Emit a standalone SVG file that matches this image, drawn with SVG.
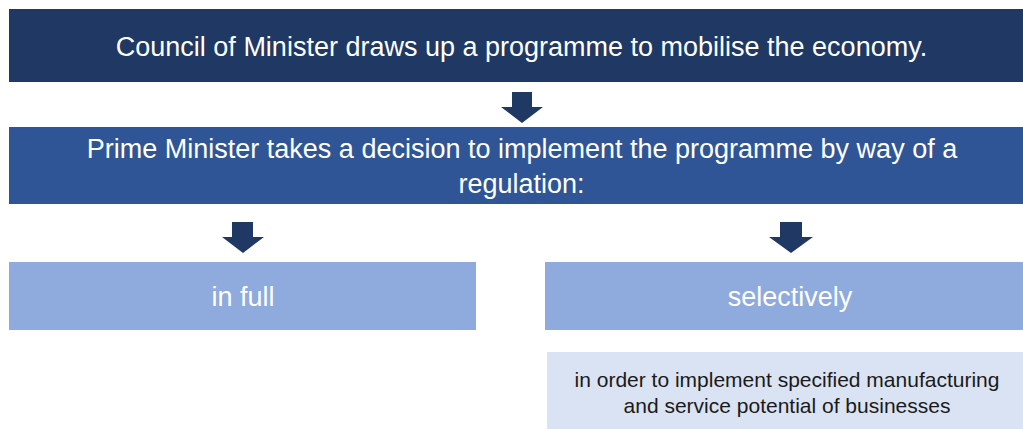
<svg xmlns="http://www.w3.org/2000/svg" width="1023" height="429" viewBox="0 0 1023 429">
<style>
  .t { font-family: "Liberation Sans", Arial, sans-serif; text-anchor: middle; }
  .w { fill: #ffffff; font-size: 27px; }
  .d { fill: #1a1a1a; font-size: 21px; }
  .arrow { fill: #203864; }
</style>
<rect width="1023" height="429" fill="#ffffff"/>
<g id="node-council">
  <rect x="9" y="9" width="1014" height="73" fill="#203864"/>
  <text class="t w" x="521.5" y="56">Council of Minister draws up a programme to mobilise the economy.</text>
</g>
<g id="node-pm">
  <rect x="9" y="127" width="1014" height="77" fill="#2F5597"/>
  <text class="t w" x="522" y="158">Prime Minister takes a decision to implement the programme by way of a</text>
  <text class="t w" x="521.5" y="193">regulation:</text>
</g>
<g id="node-full">
  <rect x="9" y="262" width="467" height="68" fill="#8FAADC"/>
  <text class="t w" x="243" y="306">in full</text>
</g>
<g id="node-selectively">
  <rect x="545" y="262" width="478" height="68" fill="#8FAADC"/>
  <text class="t w" x="790" y="306">selectively</text>
</g>
<g id="node-purpose">
  <rect x="547" y="352" width="476" height="77" fill="#DAE3F3"/>
  <text class="t d" x="787" y="387">in order to implement specified manufacturing</text>
  <text class="t d" x="787" y="413">and service potential of businesses</text>
</g>
<g id="connectors">
  <polygon class="arrow" points="512,92 532,92 532,107 543,107 522,123 501,107 512,107"/>
  <polygon class="arrow" points="232,222 253,222 253,237 264,237 243,253 222,237 232,237"/>
  <polygon class="arrow" points="780,222 802,222 802,237 813,237 791,253 769,237 780,237"/>
</g>
</svg>
